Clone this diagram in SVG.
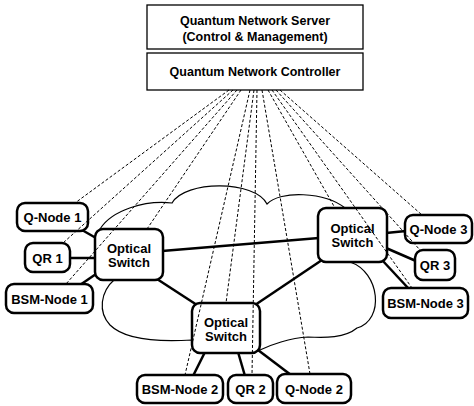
<svg xmlns="http://www.w3.org/2000/svg" width="474" height="406" viewBox="0 0 474 406">
<style>
.hdr{fill:#fff;stroke:#000;stroke-width:1.3}
.nd{fill:#fff;stroke:#000;stroke-width:2.5}
text{font-family:"Liberation Sans",Arial,Helvetica,sans-serif;font-weight:bold;fill:#000;text-anchor:middle}
.t13{font-size:13px}
.t12{font-size:12.5px}
.link{stroke:#000;stroke-width:2.5;fill:none}
.ctl{stroke:#000;stroke-width:1;stroke-dasharray:3,2;fill:none}
.cloud{fill:#fff;stroke:#000;stroke-width:1.2}
</style>
<rect width="474" height="406" fill="#fff"/>
<path id="cloud" class="cloud" d="M100,229 C112,210 145,200 172,203 C185,180 255,180 267,204 C280,190 325,192 345,208 L350,262 C380,272 385,320 357,328 C345,338 325,338 308,337 C290,338 270,345 260,350 L192,340 C160,342 125,340 110,325 C98,312 100,292 115,279 Z"/>
<g id="server"><rect class="hdr" x="147" y="5" width="216" height="44"/><text class="t12" x="255" y="25">Quantum Network Server</text><text class="t12" x="255" y="41">(Control &amp; Management)</text></g>
<g id="controller"><rect class="hdr" x="147" y="53" width="216" height="37"/><text class="t12" x="255" y="76">Quantum Network Controller</text></g>
<g id="links">
<line class="link" x1="82" y1="230" x2="96" y2="238"/>
<line class="link" x1="69" y1="258" x2="96" y2="258"/>
<line class="link" x1="80" y1="285" x2="96" y2="274"/>
<line class="link" x1="162" y1="251" x2="319" y2="238"/>
<line class="link" x1="157" y1="279" x2="197" y2="305"/>
<line class="link" x1="322" y1="260" x2="255" y2="305"/>
<line class="link" x1="386" y1="233" x2="406" y2="231"/>
<line class="link" x1="386" y1="248" x2="416" y2="261"/>
<line class="link" x1="382" y1="260" x2="409" y2="289"/>
<line class="link" x1="205" y1="352" x2="193" y2="376"/>
<line class="link" x1="238" y1="352" x2="245" y2="376"/>
<line class="link" x1="258" y1="350" x2="291" y2="375"/>
</g>
<g id="switch1"><rect class="nd" x="95" y="229" width="68" height="51" rx="8"/><text class="t13" x="129" y="253">Optical</text><text class="t13" x="129" y="267">Switch</text></g>
<g id="switch2"><rect class="nd" x="192" y="303" width="68" height="50" rx="8"/><text class="t13" x="226" y="327">Optical</text><text class="t13" x="226" y="341">Switch</text></g>
<g id="switch3"><rect class="nd" x="318" y="208" width="69" height="54" rx="8"/><text class="t13" x="352.5" y="233">Optical</text><text class="t13" x="352.5" y="247">Switch</text></g>
<g id="qnode1"><rect class="nd" x="17" y="203" width="71" height="28" rx="8"/><text class="t13" x="52.5" y="222">Q-Node 1</text></g>
<g id="qr1"><rect class="nd" x="25" y="243" width="45" height="29" rx="8"/><text class="t13" x="47.5" y="262.5">QR 1</text></g>
<g id="bsm1"><rect class="nd" x="6" y="284" width="87" height="29" rx="8"/><text class="t13" x="49.5" y="303.5">BSM-Node 1</text></g>
<g id="qnode3"><rect class="nd" x="405" y="215" width="67" height="28" rx="8"/><text class="t13" x="438.5" y="234">Q-Node 3</text></g>
<g id="qr3"><rect class="nd" x="415" y="250" width="40" height="30" rx="8"/><text class="t13" x="435" y="270">QR 3</text></g>
<g id="bsm3"><rect class="nd" x="383" y="288" width="85" height="30" rx="8"/><text class="t13" x="425.5" y="308">BSM-Node 3</text></g>
<g id="bsm2"><rect class="nd" x="137" y="375" width="86" height="28" rx="8"/><text class="t13" x="180" y="394">BSM-Node 2</text></g>
<g id="qr2"><rect class="nd" x="228" y="375" width="45" height="28" rx="8"/><text class="t13" x="250.5" y="394">QR 2</text></g>
<g id="qnode2"><rect class="nd" x="277" y="374" width="74" height="29" rx="8"/><text class="t13" x="314" y="393.5">Q-Node 2</text></g>
<g id="control-links">
<line class="ctl" x1="229" y1="90" x2="75" y2="203"/>
<line class="ctl" x1="233" y1="90" x2="63" y2="243"/>
<line class="ctl" x1="237" y1="90" x2="66" y2="284"/>
<line class="ctl" x1="241" y1="90" x2="147" y2="229"/>
<line class="ctl" x1="250" y1="90" x2="185" y2="375"/>
<line class="ctl" x1="254" y1="90" x2="226" y2="303"/>
<line class="ctl" x1="257" y1="90" x2="252" y2="375"/>
<line class="ctl" x1="262" y1="90" x2="310" y2="374"/>
<line class="ctl" x1="268" y1="90" x2="335" y2="208"/>
<line class="ctl" x1="272" y1="90" x2="412" y2="288"/>
<line class="ctl" x1="276" y1="90" x2="420" y2="250"/>
<line class="ctl" x1="280" y1="90" x2="422" y2="215"/>
</g>
</svg>
